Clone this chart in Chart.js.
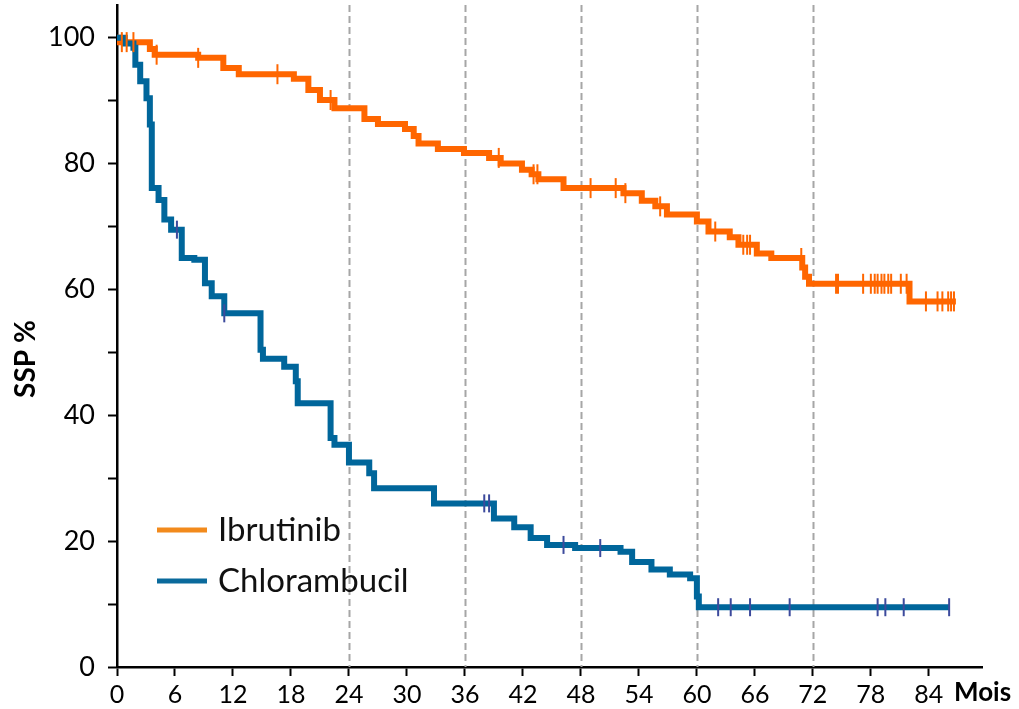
<!DOCTYPE html>
<html lang="fr">
<head>
<meta charset="UTF-8">
<title>SSP – Ibrutinib vs Chlorambucil</title>
<style>
  body { margin: 0; background: #fff; }
  #wrap { width: 1019px; height: 709px; }
</style>
</head>
<body>
<div id="wrap"><canvas id="chart" width="1019" height="709"></canvas></div>

<script src="https://cdn.jsdelivr.net/npm/chart.js"></script>
<script>
  // Kaplan-Meier steps: time of each drop (months) and survival after it (%)
  const ibruTimes = [0, 0.3, 3.4, 3.9, 8.4, 11.0, 12.6, 18.3, 19.8, 21.0, 22.5, 25.6, 27.0, 29.8, 30.7, 31.2, 33.2, 35.9, 38.5, 39.7, 41.9, 42.9, 43.6, 46.2, 52.4, 54.3, 55.7, 56.9, 60.0, 61.2, 63.4, 64.3, 66.2, 67.7, 70.9, 71.2, 71.6, 82.0];
  const ibruSurv  = [100, 99.3, 98.2, 97.3, 96.8, 95.2, 94.2, 93.5, 91.7, 90.1, 88.8, 87.1, 86.3, 85.5, 84.4, 83.2, 82.3, 81.7, 80.9, 80.0, 79.0, 78.3, 77.5, 76.1, 75.3, 74.1, 73.2, 71.9, 70.8, 69.2, 68.3, 67.1, 65.7, 65.0, 63.5, 62.0, 60.9, 58.1];
  const ibruEnd = 86.8;
  const ibruCensor = [0.5, 1.0, 1.7, 4.1, 8.4, 16.6, 22.1, 39.5, 43.1, 43.5, 49.0, 51.6, 52.6, 56.2, 61.9, 64.8, 65.2, 65.5, 70.8, 74.4, 74.6, 77.2, 78.0, 78.4, 78.7, 79.1, 79.4, 79.8, 80.1, 81.1, 81.7, 83.7, 84.9, 85.4, 86.0, 86.3, 86.6];

  const chloTimes = [0, 0.8, 1.7, 1.9, 2.4, 3.05, 3.4, 3.6, 4.3, 4.9, 5.6, 6.7, 8.0, 9.1, 9.8, 11.1, 14.85, 15.1, 17.3, 18.5, 18.7, 22.1, 22.5, 24.0, 26.1, 26.6, 32.8, 39.0, 41.1, 42.8, 44.5, 47.4, 52.1, 53.3, 55.3, 57.2, 59.3, 60.0, 60.2];
  const chloSurv  = [100, 99.1, 98.4, 95.7, 93.1, 90.4, 86.2, 76.1, 74.2, 71.1, 69.5, 65.0, 64.7, 61.0, 58.9, 56.2, 50.4, 49.0, 47.7, 45.4, 41.9, 36.4, 35.3, 32.5, 30.8, 28.4, 26.0, 23.6, 22.2, 20.5, 19.4, 18.9, 18.3, 16.7, 15.5, 14.7, 14.1, 11.2, 9.5];
  const chloEnd = 86.1;
  const chloCensor = [6.2, 11.1, 38.0, 38.5, 46.2, 50.0, 62.2, 63.5, 65.5, 69.6, 78.7, 79.5, 81.4, 86.1];

  const monthTicks = [0, 6, 12, 18, 24, 30, 36, 42, 48, 54, 60, 66, 72, 78, 84];
  const pctTicks = [0, 10, 20, 30, 40, 50, 60, 70, 80, 90, 100];
  const refMonths = [24, 36, 48, 60, 72];

  const legendItems = [
    { label: 'Ibrutinib', color: '#f28a1c' },
    { label: 'Chlorambucil', color: '#0a6a9c' }
  ];

  const ORANGE = '#ff6600';
  const BLUE = '#00669b';
  const CENSOR_BLUE = '#3c4a9c';
  const FONT = 'Lato, "Open Sans", sans-serif';

  function curve(times, surv, end) {
    const pts = times.map((t, i) => ({ x: t, y: surv[i] }));
    pts.push({ x: end, y: surv[surv.length - 1] });
    return pts;
  }

  // value of the step curve at time t
  function survAt(times, surv, t) {
    let v = surv[0];
    for (let i = 0; i < times.length; i++) {
      if (times[i] <= t) v = surv[i];
    }
    return v;
  }

  function censorPoints(times, surv, list) {
    return list.map(t => ({ x: t, y: survAt(times, surv, t) }));
  }

  // dashed reference lines, legend, y title and the "Mois" unit
  const extras = {
    id: 'extras',
    beforeDatasetsDraw(chart) {
      const { ctx, chartArea, scales } = chart;
      ctx.save();
      ctx.strokeStyle = '#a6a6a6';
      ctx.lineWidth = 2;
      ctx.setLineDash([7, 4]);
      refMonths.forEach(m => {
        const x = Math.round(scales.x.getPixelForValue(m)) + 0.5;
        ctx.beginPath();
        ctx.moveTo(x, chartArea.top);
        ctx.lineTo(x, chartArea.bottom);
        ctx.stroke();
      });
      ctx.restore();
    },
    afterDraw(chart) {
      const { ctx, chartArea } = chart;
      ctx.save();
      ctx.textBaseline = 'middle';
      ctx.font = '33px ' + FONT;
      legendItems.forEach((item, i) => {
        const y = 530 + i * 51;
        ctx.strokeStyle = item.color;
        ctx.lineWidth = 5;
        ctx.beginPath();
        ctx.moveTo(157, y);
        ctx.lineTo(207, y);
        ctx.stroke();
        ctx.fillStyle = '#111';
        ctx.fillText(item.label, 218, y);
      });

      ctx.fillStyle = '#000';
      ctx.font = 'bold 26px ' + FONT;
      ctx.textBaseline = 'top';
      ctx.fillText('Mois', 954, chartArea.bottom + 13);

      ctx.font = 'bold 28px ' + FONT;
      ctx.textAlign = 'center';
      ctx.textBaseline = 'middle';
      ctx.translate(26, 359);
      ctx.rotate(-Math.PI / 2);
      ctx.fillText('SSP %', 0, 0);
      ctx.restore();
    }
  };

  new Chart(document.getElementById('chart'), {
    type: 'scatter',
    data: {
      datasets: [
        {
          label: 'Ibrutinib censure',
          data: censorPoints(ibruTimes, ibruSurv, ibruCensor),
          pointStyle: 'line',
          rotation: 90,
          radius: 10,
          borderWidth: 2,
          borderColor: ORANGE,
          order: 0
        },
        {
          label: 'Chlorambucil censure',
          data: censorPoints(chloTimes, chloSurv, chloCensor),
          pointStyle: 'line',
          rotation: 90,
          radius: 9,
          borderWidth: 2,
          borderColor: CENSOR_BLUE,
          order: 0
        },
        {
          label: 'Chlorambucil',
          data: curve(chloTimes, chloSurv, chloEnd),
          showLine: true,
          stepped: 'before',
          borderColor: BLUE,
          borderWidth: 6,
          pointRadius: 0,
          order: 1
        },
        {
          label: 'Ibrutinib',
          data: curve(ibruTimes, ibruSurv, ibruEnd),
          showLine: true,
          stepped: 'before',
          borderColor: ORANGE,
          borderWidth: 6,
          pointRadius: 0,
          order: 2
        }
      ]
    },
    options: {
      responsive: false,
      animation: false,
      devicePixelRatio: 1,
      layout: { autoPadding: false, padding: { left: 0, top: 5, right: 37, bottom: 0 } },
      plugins: {
        legend: { display: false },
        tooltip: { enabled: false }
      },
      scales: {
        x: {
          type: 'linear',
          min: 0,
          max: 89.5,
          afterBuildTicks: s => { s.ticks = monthTicks.map(v => ({ value: v })); },
          afterFit: s => { s.height = 42; s.paddingLeft = 0; s.paddingRight = 0; },
          ticks: {
            color: '#000',
            font: { family: FONT, size: 25 },
            padding: 4,
            maxRotation: 0,
            callback: v => String(v)
          },
          grid: {
            drawOnChartArea: false,
            tickLength: 9,
            tickColor: '#000',
            tickWidth: 2
          },
          border: { color: '#000', width: 2.5 }
        },
        y: {
          min: 0,
          max: 105.2,
          afterBuildTicks: s => { s.ticks = pctTicks.map(v => ({ value: v })); },
          afterFit: s => { s.width = 117; s.paddingTop = 0; s.paddingBottom = 0; },
          ticks: {
            color: '#000',
            font: { family: FONT, size: 27 },
            padding: 13,
            callback: v => (v % 20 === 0 ? String(v) : '')
          },
          grid: {
            drawOnChartArea: false,
            tickLength: 9,
            tickColor: '#000',
            tickWidth: 2
          },
          border: { color: '#000', width: 2.5 }
        }
      }
    },
    plugins: [extras]
  });
</script>
</body>
</html>
